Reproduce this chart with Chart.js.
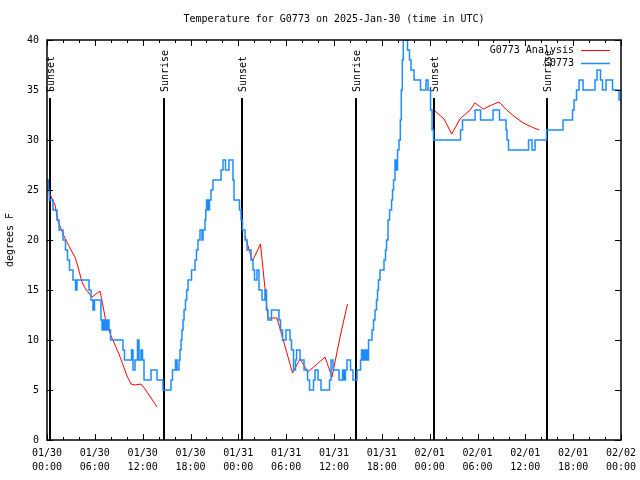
<!DOCTYPE html>
<html>
<head>
<meta charset="utf-8">
<title>Temperature for G0773</title>
<script src="https://cdn.jsdelivr.net/npm/chart.js@4.4.1/dist/chart.umd.min.js"></script>
<style>
  body { margin: 0; background: #fff; }
  canvas { display: block; }
</style>
</head>
<body>
<canvas id="tempChart" width="640" height="480"></canvas>
<script>
// time axis = hours since 2025-01-30 00:00 UTC
// observations: each value holds until the next time
const obsHours = [
  0.00, 0.16, 0.29, 0.75, 1.25, 1.51, 2.01, 2.32, 2.57, 2.82,
  3.26, 3.58, 3.76, 5.27, 5.52, 5.77, 5.96, 6.77, 6.90, 7.02,
  7.15, 7.34, 7.46, 7.65, 7.78, 7.97, 9.53, 9.72, 10.60, 10.79,
  11.04, 11.35, 11.54, 11.79, 11.98, 12.17, 13.05, 13.80, 14.55, 15.55,
  15.74, 16.12, 16.31, 16.56, 16.68, 16.81, 16.93, 17.06, 17.19, 17.37,
  17.52, 17.69, 18.13, 18.57, 18.75, 18.94, 19.19, 19.44, 19.57, 19.82,
  19.91, 20.01, 20.20, 20.38, 20.57, 20.82, 21.83, 22.08, 22.39, 22.83,
  23.33, 23.46, 24.15, 24.34, 24.52, 24.84, 25.09, 25.59, 25.84, 26.03,
  26.34, 26.59, 26.97, 27.34, 27.53, 27.72, 28.16, 29.10, 29.29, 29.54,
  29.98, 30.48, 30.67, 30.92, 31.17, 31.30, 31.74, 32.24, 32.68, 32.93,
  33.43, 33.62, 34.00, 34.37, 35.44, 35.63, 35.88, 36.63, 37.07, 37.26,
  37.44, 37.63, 38.07, 38.38, 38.89, 39.33, 39.45, 39.58, 39.76, 39.89,
  40.01, 40.14, 40.33, 40.77, 40.96, 41.14, 41.33, 41.46, 41.58, 41.77,
  42.27, 42.46, 42.59, 42.78, 42.97, 43.22, 43.34, 43.47, 43.65, 43.84,
  43.97, 44.15, 44.32, 44.44, 44.57, 44.69, 44.97, 45.22, 45.47, 45.66,
  46.04, 46.85, 47.54, 47.79, 48.11, 48.30, 48.48, 51.87, 52.12, 53.69,
  54.38, 55.95, 56.76, 57.58, 57.70, 57.89, 60.40, 60.84, 61.22, 62.66,
  64.73, 65.92, 66.11, 66.42, 66.74, 67.24, 68.74, 68.99, 69.43, 69.68,
  70.12, 70.94, 71.75, 72.00
];
const obsTemps = [
  26, 25, 24, 23, 22, 21, 20, 19, 18, 17,
  16, 15, 16, 15, 14, 13, 14, 12, 11, 12,
  11, 12, 11, 12, 11, 10, 9, 8, 9, 7,
  8, 10, 8, 9, 8, 6, 7, 6, 5, 6,
  7, 8, 7, 8, 9, 10, 11, 12, 13, 14,
  15, 16, 17, 18, 19, 20, 21, 20, 21, 22,
  23, 24, 23, 24, 25, 26, 27, 28, 27, 28,
  26, 24, 23, 22, 21, 20, 19, 18, 17, 16,
  17, 15, 14, 15, 13, 12, 13, 12, 11, 10,
  11, 10, 9, 7, 8, 9, 8, 7, 6, 5,
  6, 7, 6, 5, 6, 8, 7, 6, 7, 6,
  7, 8, 7, 6, 7, 8, 9, 8, 9, 8,
  9, 8, 10, 11, 12, 13, 14, 15, 16, 17,
  18, 19, 20, 22, 23, 24, 25, 26, 28, 27,
  29, 30, 32, 35, 38, 41, 40, 39, 38, 37,
  36, 35, 36, 35, 33, 31, 30, 31, 32, 33,
  32, 33, 32, 31, 30, 29, 30, 29, 30, 31,
  32, 33, 34, 35, 36, 35, 36, 37, 36, 35,
  36, 35, 34, 34
];

// analysis, null = gap between runs
const anaHours = [
  0.25, 1.00, 1.38, 2.01, 3.01, 3.51, 3.89, 4.39, 4.77, 5.64, 6.65,
  7.02, 7.40, 8.03, 9.03, 10.04, 10.54, 11.04, 11.79, 12.29, 13.05, 13.80,
  19.0,
  24.84, 25.78, 26.78, 27.72, 28.85, 30.80, 31.74, 32.74, 34.87, 35.75, 36.76, 37.69,
  43.0,
  48.67, 49.80, 50.76, 51.80, 53.06, 53.68, 54.73, 55.78, 56.70, 57.66, 58.70,
  59.75, 60.80, 61.75
];
const anaTemps = [
  24.8, 23.5, 21.9, 20.6, 19.0, 18.3, 17.3, 15.8, 15.2, 14.3, 14.9,
  13.4, 11.8, 10.4, 8.6, 6.4, 5.6, 5.5, 5.6, 5.1, 4.2, 3.3,
  null,
  20.4, 17.9, 19.6, 12.2, 12.2, 6.7, 8.1, 6.8, 8.3, 6.3, 10.3, 13.6,
  null,
  32.9, 32.1, 30.6, 32.1, 33.0, 33.7, 33.1, 33.5, 33.8, 33.0, 32.3,
  31.7, 31.3, 31.0
];

const sunHours = [0.38, 14.68, 24.46, 38.76, 48.55, 62.72];
const sunLabels = ['Sunset', 'Sunrise', 'Sunset', 'Sunrise', 'Sunset', 'Sunrise'];

const tickDates = ['01/30', '01/30', '01/30', '01/30', '01/31', '01/31', '01/31',
                   '01/31', '02/01', '02/01', '02/01', '02/01', '02/02'];
const tickTimes = ['00:00', '06:00', '12:00', '18:00', '00:00', '06:00', '12:00',
                   '18:00', '00:00', '06:00', '12:00', '18:00', '00:00'];

const chartTitle = 'Temperature for G0773 on 2025-Jan-30 (time in UTC)';
const FONT = "'DejaVu Sans Mono', 'Liberation Mono', monospace";

Chart.defaults.font.family = FONT;
Chart.defaults.font.size = 10;
Chart.defaults.color = '#000';

function toPoints(xs, ys) {
  return xs.map((x, i) => ({ x: x, y: ys[i] }));
}

// gnuplot look: inward ticks, framed box, sun lines, title and legend
const gnuplotDecor = {
  id: 'gnuplotDecor',
  beforeDatasetsDraw(chart) {
    const { ctx, chartArea, scales } = chart;
    ctx.save();
    ctx.strokeStyle = '#000';
    ctx.fillStyle = '#000';
    ctx.lineWidth = 2;
    ctx.font = '10px ' + FONT;
    sunHours.forEach((h, i) => {
      const x = Math.round(scales.x.getPixelForValue(h));
      ctx.beginPath();
      ctx.moveTo(x, chartArea.top + 58);
      ctx.lineTo(x, chartArea.bottom);
      ctx.stroke();
      ctx.save();
      ctx.translate(x + 1, chartArea.top + 52);
      ctx.rotate(-Math.PI / 2);
      ctx.textAlign = 'left';
      ctx.textBaseline = 'middle';
      ctx.fillText(sunLabels[i], 0, 0);
      ctx.restore();
    });
    ctx.restore();
  },
  afterDatasetsDraw(chart) {
    const { ctx, chartArea, scales } = chart;
    const { left, right, top, bottom } = chartArea;
    ctx.save();
    ctx.strokeStyle = '#000';
    ctx.lineWidth = 1;
    ctx.beginPath();
    for (let h = 0; h <= 72; h += 2) {
      const x = Math.round(scales.x.getPixelForValue(h)) + 0.5;
      const len = h % 6 === 0 ? 6 : 3;
      ctx.moveTo(x, bottom);
      ctx.lineTo(x, bottom - len);
      ctx.moveTo(x, top);
      ctx.lineTo(x, top + len);
    }
    for (let t = 0; t <= 40; t += 5) {
      const y = Math.round(scales.y.getPixelForValue(t)) + 0.5;
      ctx.moveTo(left, y);
      ctx.lineTo(left + 6, y);
      ctx.moveTo(right, y);
      ctx.lineTo(right - 6, y);
    }
    ctx.stroke();
    ctx.lineWidth = 1.5;
    ctx.strokeRect(left, top, right - left, bottom - top);
    ctx.restore();
  },
  afterDraw(chart) {
    const { ctx, chartArea } = chart;
    ctx.save();
    ctx.fillStyle = '#000';
    ctx.font = '10px ' + FONT;
    ctx.textAlign = 'center';
    ctx.textBaseline = 'middle';
    ctx.fillText(chartTitle, (chartArea.left + chartArea.right) / 2, 19);

    ctx.textAlign = 'right';
    chart.data.datasets.forEach((ds, i) => {
      const y = chartArea.top + 10 + i * 13;
      ctx.fillStyle = '#000';
      ctx.fillText(ds.label, chartArea.right - 47, y);
      ctx.strokeStyle = ds.borderColor;
      ctx.lineWidth = ds.borderWidth;
      ctx.beginPath();
      ctx.moveTo(chartArea.right - 40, y + 0.5);
      ctx.lineTo(chartArea.right - 11, y + 0.5);
      ctx.stroke();
    });
    ctx.restore();
  }
};

const ctx = document.getElementById('tempChart').getContext('2d');
const tempChart = new Chart(ctx, {
  type: 'line',
  data: {
    datasets: [{
      label: 'G0773 Analysis',
      data: toPoints(anaHours, anaTemps),
      borderColor: '#ff0000',
      borderWidth: 1,
      pointRadius: 0,
      tension: 0,
      spanGaps: false,
      order: 1
    }, {
      label: 'G0773',
      data: toPoints(obsHours, obsTemps),
      borderColor: '#1e8cff',
      borderWidth: 1.5,
      pointRadius: 0,
      stepped: 'before',
      order: 0
    }]
  },
  options: {
    responsive: false,
    animation: false,
    layout: { padding: { top: 40, right: 19, left: 0, bottom: 0 } },
    scales: {
      x: {
        type: 'linear',
        min: 0,
        max: 72,
        grid: { display: false },
        border: { display: false },
        afterFit: function(scale) { scale.height = 40; },
        ticks: {
          stepSize: 6,
          autoSkip: false,
          maxRotation: 0,
          padding: -2,
          font: { size: 10, lineHeight: 1.4 },
          callback: function(value) {
            const i = Math.round(value / 6);
            return [tickDates[i], tickTimes[i]];
          }
        }
      },
      y: {
        min: 0,
        max: 40,
        grid: { display: false },
        border: { display: false },
        afterFit: function(scale) { scale.width = 47; },
        ticks: { stepSize: 5, padding: 0 },
        title: {
          display: true,
          text: 'degrees F',
          padding: { top: 4, bottom: 0 }
        }
      }
    },
    plugins: {
      legend: { display: false },
      title: { display: false },
      tooltip: { enabled: false }
    }
  },
  plugins: [gnuplotDecor]
});
</script>
</body>
</html>
